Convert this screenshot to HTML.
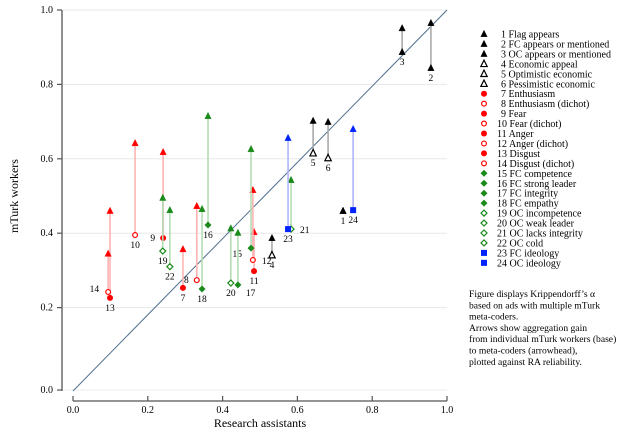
<!DOCTYPE html>
<html><head><meta charset="utf-8">
<style>
html,body{margin:0;padding:0;background:#fff;}
svg{display:block;font-family:"Liberation Serif",serif;}
</style></head>
<body>
<svg id="chart" width="640" height="438" viewBox="0 0 640 438" xmlns="http://www.w3.org/2000/svg"></svg>
<script>
const ids = [1,2,3,4,5,6,7,8,9,10,11,12,13,14,15,16,17,18,19,20,21,22,23,24];
const names = ["Flag appears","FC appears or mentioned","OC appears or mentioned","Economic appeal","Optimistic economic","Pessimistic economic","Enthusiasm","Enthusiasm (dichot)","Fear","Fear (dichot)","Anger","Anger (dichot)","Disgust","Disgust (dichot)","FC competence","FC strong leader","FC integrity","FC empathy","OC incompetence","OC weak leader","OC lacks integrity","OC cold","FC ideology","OC ideology"];
const groups = ["k","k","k","k","k","k","r","r","r","r","r","r","r","r","g","g","g","g","g","g","g","g","b","b"];
const shapes = ["tri","tri","tri","otri","otri","otri","dot","odot","dot","odot","dot","odot","dot","odot","dia","dia","dia","dia","odia","odia","odia","odia","sq","sq"];
const raValues = [0.722,0.957,0.88,0.532,0.642,0.682,0.294,0.331,0.241,0.166,0.484,0.481,0.099,0.094,0.476,0.361,0.441,0.345,0.24,0.422,0.583,0.259,0.575,0.749];
const baseValues = [0.46,0.844,0.887,0.341,0.615,0.602,0.253,0.274,0.387,0.395,0.298,0.328,0.226,0.242,0.36,0.422,0.261,0.25,0.352,0.266,0.411,0.31,0.411,0.462];
const metaValues = [0.46,0.965,0.951,0.387,0.702,0.699,0.357,0.473,0.618,0.642,0.403,0.516,0.46,0.345,0.626,0.715,0.401,0.465,0.495,0.413,0.543,0.462,0.656,0.68];
const xTicks = [0,0.2,0.4,0.6,0.8,1.0];
const yTicks = [0.2,0.4,0.6,0.8,1.0];
const tickFmt = ["0.0","0.2","0.4","0.6","0.8","1.0"];
const lblOff = {8:[-8,3],9:[-8,3],12:[9,4],14:[-9,0],15:[-9,9],17:[8,11],21:[9,4]};

const NS="http://www.w3.org/2000/svg";
const svg=document.getElementById('chart');
const X=v=>73+374*v;
const Y=v=>382-372*v;
function mk(t,a,p){const e=document.createElementNS(NS,t);for(const k in a)e.setAttribute(k,a[k]);(p||svg).appendChild(e);return e;}
const col={k:"#000",r:"#ff0000",g:"#1a8a1a",b:"#0022ff"};
const pale={k:"#aaaaaa",r:"#ffb4b4",g:"#b4dcb4",b:"#b0b4f8"};

yTicks.forEach(t=>{const l=mk('line',{x1:63,x2:447,y1:Y(t),y2:Y(t),stroke:'#e8e8e8','stroke-width':1});

});
mk('line',{x1:63,x2:447,y1:390,y2:390,stroke:'#eeeeee','stroke-width':1});
const ya=mk('line',{x1:62,x2:62,y1:Y(1),y2:391,stroke:'#555','stroke-width':1.3});


const xa=mk('line',{x1:X(0),x2:X(1),y1:401,y2:401,stroke:'#555','stroke-width':1.3});


xTicks.forEach((t,i)=>{mk('line',{x1:X(t),x2:X(t),y1:401,y2:396,stroke:'#555','stroke-width':1.2});
const tx=mk('text',{x:X(t),y:413,'text-anchor':'middle','font-size':10});tx.textContent=tickFmt[i];

});
const yLabY=[390].concat(yTicks.map(Y));
yLabY.forEach((py,i)=>{mk('line',{x1:57,x2:62,y1:py,y2:py,stroke:'#555','stroke-width':1.2});
const tx=mk('text',{x:53,y:py+3,'text-anchor':'end','font-size':10});tx.textContent=tickFmt[i];

});
const xt=mk('text',{x:260,y:427,'text-anchor':'middle','font-size':12});xt.textContent="Research assistants";


const yt=mk('text',{x:0,y:0,'text-anchor':'middle','font-size':12,transform:'translate(18,196) rotate(-90)'});yt.textContent="mTurk workers";


const dg=mk('line',{x1:73,y1:391,x2:447,y2:10,stroke:'#4f6f8f','stroke-width':1});



function marker(shape,cx,cy,c,p){
 let e;const sw=1.2;
 if(shape==='tri'||shape==='otri'||shape==='head'){const s=3.2;e=mk('polygon',{points:`${cx},${cy-s-0.5} ${cx-s},${cy+s-0.5} ${cx+s},${cy+s-0.5}`,fill:shape==='otri'?'#fff':c,stroke:c,'stroke-width':shape==='otri'?sw:0.4},p);}
 else if(shape==='dot'||shape==='odot'){e=mk('circle',{cx,cy,r:shape==='odot'?2.4:3,fill:shape==='odot'?'#fff':c,stroke:c,'stroke-width':shape==='odot'?sw:0},p);}
 else if(shape==='dia'||shape==='odia'){const s=shape==='odia'?3:3.5;e=mk('polygon',{points:`${cx},${cy-s} ${cx+s},${cy} ${cx},${cy+s} ${cx-s},${cy}`,fill:shape==='odia'?'#fff':c,stroke:c,'stroke-width':shape==='odia'?sw:0},p);}
 else {e=mk('rect',{x:cx-3,y:cy-3,width:6,height:6,fill:c},p);}
 return e;
}
ids.forEach((id,i)=>{
 const g=mk('g',{});
 
 
 const c=col[groups[i]],x=X(raValues[i]),yb=Y(baseValues[i]),ym=Y(metaValues[i]);
 if(Math.abs(yb-ym)>1){
  const l=mk('line',{x1:x,x2:x,y1:yb,y2:ym+2,stroke:pale[groups[i]],'stroke-width':1.6},g);
  
  
 }
 const h=marker('head',x,ym,c,g);
 
 
 const m=marker(shapes[i],x,yb,c,g);
 
 
 const o=lblOff[id]||[0,13];
 const t=mk('text',{x:x+o[0],y:yb+o[1],'text-anchor':o[0]<0?'end':(o[0]>0?'start':'middle'),'font-size':9.5},g);
 t.textContent=id;
 
 
});
const lg=mk('g',{});


ids.forEach((id,i)=>{
 const y=34+i*9.95;
 const e=mk('g',{},lg);
 
 
 marker(shapes[i],484,y,col[groups[i]],e);
 const t=mk('text',{x:id<10?501:497,y:y+3.5,'font-size':10},e);
 t.textContent=id+' '+names[i];
});
const note=["Figure displays Krippendorff’s α","based on ads with multiple mTurk","meta-coders.","Arrows show aggregation gain","from individual mTurk workers (base)","to meta-coders (arrowhead),","plotted against RA reliability."];
const ng=mk('g',{});


note.forEach((s,i)=>{const t=mk('text',{x:469,y:297+i*11.3,'font-size':9.6},ng);t.textContent=s;});
</script>
</body></html>
